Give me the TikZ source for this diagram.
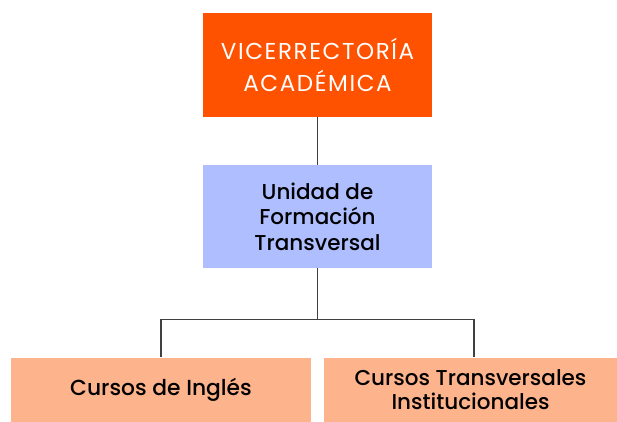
\documentclass[tikz,border=0pt]{standalone}
\usepackage{fontspec}
\setmainfont{Poppins}[BoldFont={Poppins Medium}]
\usepackage{tikz}
\usetikzlibrary{positioning}

\definecolor{viceorange}{HTML}{FF5200}
\definecolor{unidadblue}{HTML}{AFBEFF}
\definecolor{cursosalmon}{HTML}{FDB38B}
\definecolor{linegray}{HTML}{404040}

\tikzset{
  box/.style={rectangle, inner sep=0pt, align=center},
  link/.style={draw=linegray, line width=1.2pt}
}

\begin{document}
\begin{tikzpicture}[x=1pt, y=-1pt]
		\useasboundingbox (0,0) rectangle (617,422);
		% top
		\node[box, fill=viceorange, text=white, minimum width=229, minimum height=103.5,
		  font=\fontsize{23}{32.5}\selectfont\addfontfeature{LetterSpace=7}] (vice) at (317.5,65) {VICERRECTORÍA\\ACADÉMICA};
		% middle
		\node[box, fill=unidadblue, minimum width=229, minimum height=103,
		  font=\bfseries\fontsize{21.5}{25.5}\selectfont] (unidad) at (317.5,216.5) {Unidad de\\Formación\\Transversal};
		% cursos
		\node[box, fill=cursosalmon, minimum width=300, minimum height=64.5,
		  font=\bfseries\fontsize{21.8}{24.5}\selectfont] (ingles) at (161,389.75) {Cursos de Inglés};
		\node[box, fill=cursosalmon, minimum width=293, minimum height=64.5,
		  font=\bfseries\fontsize{21.5}{24.5}\selectfont] (trans) at (470.5,389.75) {Cursos Transversales\\Institucionales};
		% links
		\coordinate (split) at (317.5,319.3);
		\draw[link] (vice) -- (unidad);
		\draw[link] (unidad) -- (split);
		\draw[link] (split) -| (ingles.north);
		\draw[link] (split) -| ([xshift=3.5]trans.north);
	\end{tikzpicture}
\end{document}
